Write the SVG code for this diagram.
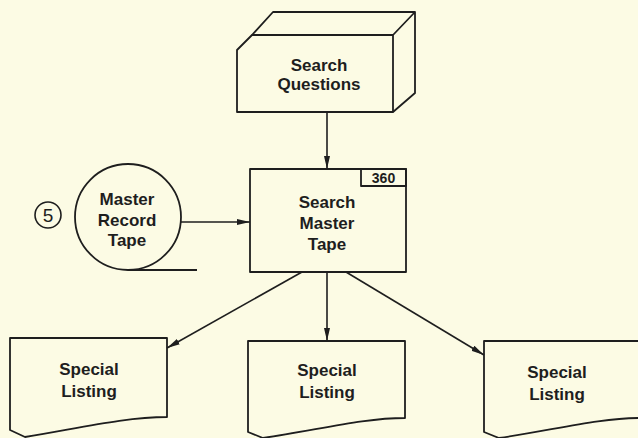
<svg xmlns="http://www.w3.org/2000/svg" width="638" height="438" viewBox="0 0 638 438">
<style>
.s{fill:none;stroke:#1e1e1e;stroke-width:1.8;stroke-linejoin:round}
.t{font-family:"Liberation Sans",Arial,sans-serif;font-weight:bold;font-size:17px;fill:#1e1e1e;text-anchor:middle}
.c{stroke:#1e1e1e;stroke-width:1.6;fill:none;marker-end:url(#ah)}
</style>
<defs>
<marker id="ah" markerWidth="14" markerHeight="8" refX="13" refY="4" orient="auto" markerUnits="userSpaceOnUse">
<path d="M0,1 L13,4 L0,7 Z" fill="#1e1e1e"/>
</marker>
</defs>
<rect width="638" height="438" fill="#fcfbe4"/>
<g id="search-questions">
<path class="s" d="M237,50 L252,35 H393 V112 H237 Z"/>
<path class="s" d="M252,35 L273,12 H415 L393,35 M415,12 V93 L393,112"/>
<text class="t" x="319" y="71">Search</text>
<text class="t" x="319" y="90">Questions</text>
</g>
<g id="search-master-tape">
<rect class="s" x="250" y="169" width="156" height="103"/>
<rect class="s" x="361" y="169" width="45" height="17"/>
<text class="t" x="383.5" y="183" style="font-size:14px">360</text>
<text class="t" x="327" y="208">Search</text>
<text class="t" x="327" y="229">Master</text>
<text class="t" x="327" y="250">Tape</text>
</g>
<g id="master-record-tape">
<circle class="s" cx="128" cy="217" r="53"/>
<line class="s" x1="128" y1="270" x2="197" y2="270"/>
<text class="t" x="127" y="205">Master</text>
<text class="t" x="127" y="226">Record</text>
<text class="t" x="127" y="246">Tape</text>
</g>
<g id="label-5">
<circle class="s" cx="48" cy="215" r="13" style="stroke-width:1.6"/>
<text x="48" y="222" style="font-family:'Liberation Sans',Arial,sans-serif;font-size:19px;fill:#1e1e1e;text-anchor:middle">5</text>
</g>
<g id="listing-1" transform="translate(10,338)">
<path class="s" d="M0,0 H157 V79 C115,79 70,90 15,99 L0,92 Z"/>
<text class="t" x="79" y="37">Special</text>
<text class="t" x="79" y="59">Listing</text>
</g>
<g id="listing-2" transform="translate(248,341)">
<path class="s" d="M0,0 H157 V77 C115,77 70,89 15,97 L0,91 Z"/>
<text class="t" x="79" y="35">Special</text>
<text class="t" x="79" y="57">Listing</text>
</g>
<g id="listing-3" transform="translate(484,341)">
<path class="s" d="M0,0 H157 V77 C115,77 70,89 15,97 L0,91 Z"/>
<text class="t" x="73" y="37">Special</text>
<text class="t" x="73" y="59">Listing</text>
</g>
<g id="connectors">
<line class="c" x1="327" y1="112" x2="327" y2="169"/>
<line class="c" x1="181" y1="222" x2="250" y2="222"/>
<line class="c" x1="302" y1="272" x2="167" y2="348"/>
<line class="c" x1="327" y1="272" x2="327" y2="341"/>
<line class="c" x1="346" y1="272" x2="484" y2="355"/>
</g>
</svg>
